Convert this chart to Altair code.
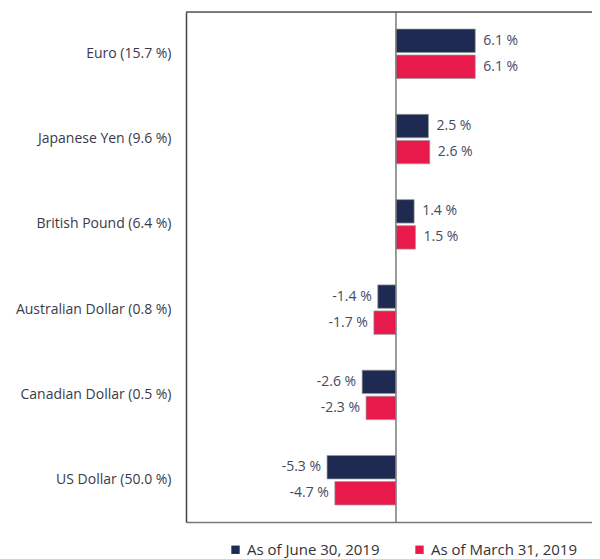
import altair as alt
import pandas as pd

categories = ["Euro (15.7 %)", "Japanese Yen (9.6 %)", "British Pound (6.4 %)",
              "Australian Dollar (0.8 %)", "Canadian Dollar (0.5 %)", "US Dollar (50.0 %)"]
series = ["As of June 30, 2019", "As of March 31, 2019"]
june = [6.1, 2.5, 1.4, -1.4, -2.6, -5.3]
march = [6.1, 2.6, 1.5, -1.7, -2.3, -4.7]
colors = ["#1f2a52", "#e8194b"]

rows = []
for c, j, m in zip(categories, june, march):
    rows.append({"cat": c, "series": series[0], "v": j, "lab": f"{j:.1f} %"})
    rows.append({"cat": c, "series": series[1], "v": m, "lab": f"{m:.1f} %"})
df = pd.DataFrame(rows)

FONT = "Open Sans"
W = 406

y_enc = alt.Y("cat:N", sort=categories, title=None,
              scale=alt.Scale(paddingInner=0.42),
              axis=alt.Axis(domain=True, domainColor="#444444", domainWidth=1.5,
                            ticks=False, labelPadding=15, labelFontSize=14,
                            labelColor="#3a3a4a", labelFont=FONT))
x_scale = alt.Scale(domain=[-16.15, 15.08], nice=False, zero=False)
yoff = alt.YOffset("series:N", sort=series, scale=alt.Scale(paddingInner=0.1))

base = alt.Chart(df)

bars = base.mark_bar(stroke="#9a9a9a", strokeWidth=0.7).encode(
    x=alt.X("v:Q", scale=x_scale, title=None,
            axis=alt.Axis(domain=True, domainColor="#777777", domainWidth=1.5,
                          ticks=False, labels=False, grid=False)),
    y=y_enc,
    yOffset=yoff,
    color=alt.Color("series:N", sort=series,
                    scale=alt.Scale(domain=series, range=colors),
                    legend=alt.Legend(title=None, orient="none", direction="horizontal",
                                      legendX=42, legendY=530, symbolType="square",
                                      symbolSize=70, symbolStrokeWidth=0,
                                      labelFontSize=15, labelColor="#333333",
                                      labelFont=FONT, columnPadding=32,
                                      labelOffset=4, labelLimit=300)),
)

pos_text = base.transform_filter("datum.v >= 0").mark_text(
    align="left", dx=8, fontSize=14, color="#454a66", font=FONT
).encode(x=alt.X("v:Q", scale=x_scale), y=alt.Y("cat:N", sort=categories), yOffset=yoff, text="lab:N")

neg_text = base.transform_filter("datum.v < 0").mark_text(
    align="right", dx=-6, fontSize=14, color="#454a66", font=FONT
).encode(x=alt.X("v:Q", scale=x_scale), y=alt.Y("cat:N", sort=categories), yOffset=yoff, text="lab:N")

zero_df = pd.DataFrame({"z": [0.0]})
zero_rule = alt.Chart(zero_df).mark_rule(color="#7a7a7a", strokeWidth=1.5).encode(
    x=alt.X("z:Q", scale=x_scale)
)
top_rule = alt.Chart(zero_df).mark_rule(color="#555555", strokeWidth=1.5).encode(
    y=alt.value(0), x=alt.value(0), x2=alt.value(W)
)

chart = alt.layer(bars, pos_text, neg_text, zero_rule, top_rule).properties(
    width=W, height=510,
    autosize=alt.AutoSizeParams(type="none"),
    padding={"left": 178, "top": 4, "right": 0, "bottom": 37},
).configure_view(stroke=None).configure(background="white")

chart.save("out.html", embed_options={"renderer": "svg", "actions": False})
